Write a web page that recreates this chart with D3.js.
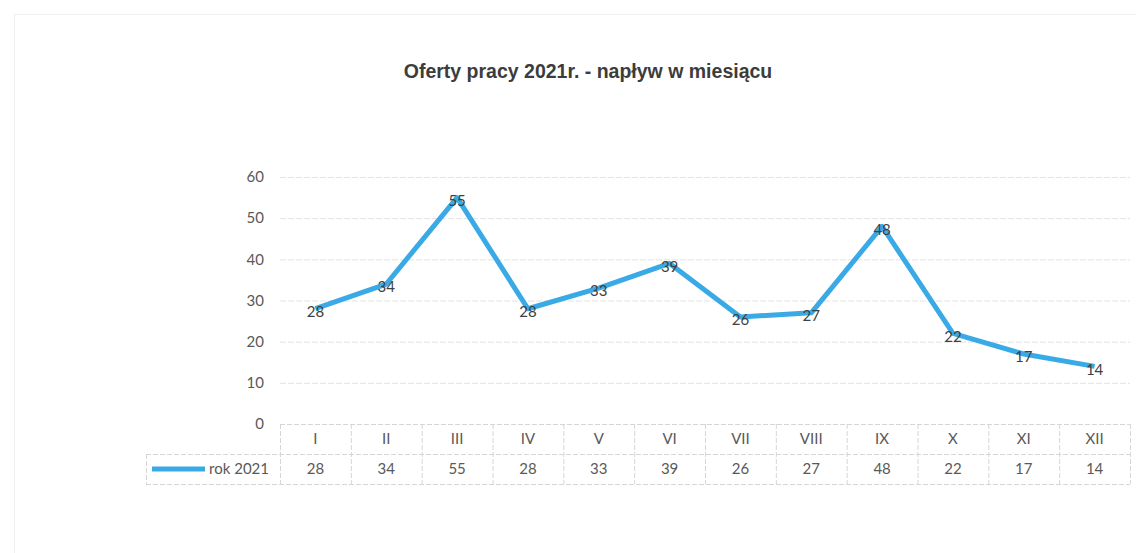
<!DOCTYPE html>
<html>
<head>
<meta charset="utf-8">
<script src="https://cdn.jsdelivr.net/npm/d3@7"></script>
<style>
  body { margin: 0; background: #fff; }
  svg { display: block; }
</style>
</head>
<body>
<svg id="chart" width="1136" height="553"></svg>
<script>
// data
const months = ["I", "II", "III", "IV", "V", "VI", "VII", "VIII", "IX", "X", "XI", "XII"];
const values2021 = [28, 34, 55, 28, 33, 39, 26, 27, 48, 22, 17, 14];
const seriesName = "rok 2021";
const yTicks = [0, 10, 20, 30, 40, 50, 60];
const title = "Oferty pracy 2021r. - napływ w miesiącu";

const svg = d3.select("#chart");
const font = "Lato, 'Open Sans', sans-serif";
const lineColor = "#3aaae6";
const textColor = "#404040";

// plot area
const plotLeft = 280, plotRight = 1130, plotTop = 177, plotBottom = 424;
const rowH = 30;

const x = d3.scaleBand().domain(months).range([plotLeft, plotRight]);
const y = d3.scaleLinear().domain([0, 60]).range([plotBottom, plotTop]);

// faint chart frame (scan edge)
svg.append("rect")
    .attr("x", 14.5).attr("y", 14.5)
    .attr("width", 1140).attr("height", 560)
    .attr("fill", "none").attr("stroke", "#efefef");

// title
svg.append("text")
    .attr("x", 588).attr("y", 78)
    .attr("text-anchor", "middle")
    .style("font-family", "'Liberation Sans', Arial, sans-serif")
    .style("font-size", "19.5px").style("font-weight", "bold")
    .attr("fill", "#3c3c3c")
    .text(title);

// gridlines
svg.append("g")
    .selectAll("line")
    .data(yTicks.filter(d => d > 0))
    .join("line")
    .attr("x1", plotLeft).attr("x2", plotRight)
    .attr("y1", d => y(d) + 0.5).attr("y2", d => y(d) + 0.5)
    .attr("stroke", "#e2e2e2").attr("stroke-dasharray", "6,2");

// y axis labels
svg.append("g")
    .selectAll("text")
    .data(yTicks)
    .join("text")
    .attr("x", 264).attr("y", d => y(d))
    .attr("dy", "0.35em")
    .attr("text-anchor", "end")
    .style("font-family", font).style("font-size", "15px")
    .attr("fill", "#595959")
    .text(d => d);

// data table
const table = svg.append("g");
const gridStroke = "#d6d6d6";
// horizontal rules
table.append("line")
    .attr("x1", plotLeft).attr("x2", plotRight)
    .attr("y1", plotBottom + 0.5).attr("y2", plotBottom + 0.5)
    .attr("stroke", gridStroke).attr("stroke-dasharray", "5,2");
[plotBottom + rowH, plotBottom + 2 * rowH].forEach(yy => {
    table.append("line")
        .attr("x1", 146).attr("x2", plotRight)
        .attr("y1", yy + 0.5).attr("y2", yy + 0.5)
        .attr("stroke", gridStroke).attr("stroke-dasharray", "5,2");
});
// vertical rules
const edges = months.map(m => x(m)).concat([plotRight]);
table.selectAll(".vline")
    .data(edges)
    .join("line")
    .attr("x1", d => d + 0.5).attr("x2", d => d + 0.5)
    .attr("y1", plotBottom).attr("y2", plotBottom + 2 * rowH)
    .attr("stroke", gridStroke).attr("stroke-dasharray", "5,2");
table.append("line")
    .attr("x1", 146.5).attr("x2", 146.5)
    .attr("y1", plotBottom + rowH).attr("y2", plotBottom + 2 * rowH)
    .attr("stroke", gridStroke).attr("stroke-dasharray", "5,2");

// header row: month labels
table.selectAll(".month")
    .data(months)
    .join("text")
    .attr("x", d => x(d) + x.bandwidth() / 2)
    .attr("y", plotBottom + rowH / 2)
    .attr("dy", "0.35em")
    .attr("text-anchor", "middle")
    .style("font-family", font).style("font-size", "15px")
    .attr("fill", "#595959")
    .text(d => d);

// value row
table.selectAll(".val")
    .data(values2021)
    .join("text")
    .attr("x", (d, i) => x(months[i]) + x.bandwidth() / 2)
    .attr("y", plotBottom + rowH * 1.5)
    .attr("dy", "0.35em")
    .attr("text-anchor", "middle")
    .style("font-family", font).style("font-size", "15px")
    .attr("fill", "#595959")
    .text(d => d);

// legend key inside the table
table.append("line")
    .attr("x1", 152).attr("x2", 205)
    .attr("y1", plotBottom + rowH * 1.5).attr("y2", plotBottom + rowH * 1.5)
    .attr("stroke", lineColor).attr("stroke-width", 5);
table.append("text")
    .attr("x", 269).attr("y", plotBottom + rowH * 1.5)
    .attr("dy", "0.35em")
    .attr("text-anchor", "end")
    .style("font-family", font).style("font-size", "15px")
    .attr("fill", "#595959")
    .text(seriesName);

// line series
const line = d3.line()
    .x((d, i) => x(months[i]) + x.bandwidth() / 2)
    .y(d => y(d));

svg.append("path")
    .datum(values2021)
    .attr("d", line)
    .attr("fill", "none")
    .attr("stroke", lineColor)
    .attr("stroke-width", 5)
    .attr("stroke-linejoin", "round");

// data labels centred on the points
svg.append("g")
    .selectAll("text")
    .data(values2021)
    .join("text")
    .attr("x", (d, i) => x(months[i]) + x.bandwidth() / 2)
    .attr("y", d => y(d) + 3)
    .attr("dy", "0.35em")
    .attr("text-anchor", "middle")
    .style("font-family", font).style("font-size", "15px")
    .attr("fill", textColor)
    .text(d => d);
</script>
</body>
</html>
